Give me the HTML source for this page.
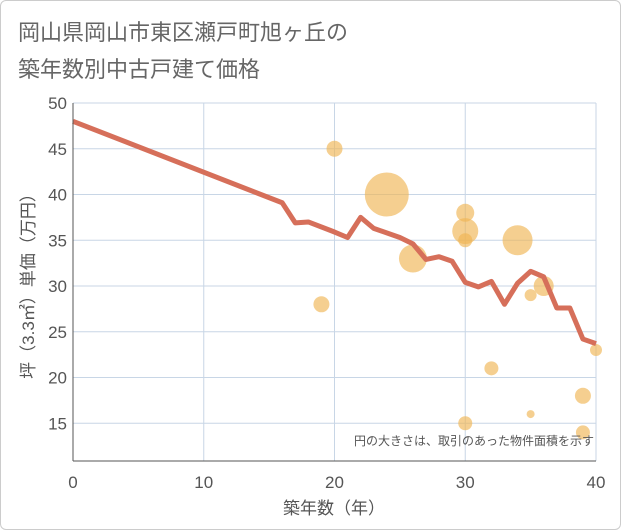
<!DOCTYPE html>
<html><head><meta charset="utf-8">
<style>
body{margin:0;background:#fff;font-family:"Liberation Sans","Noto Sans CJK JP",sans-serif;}
#wrap{position:relative;width:619px;height:528px;border:1px solid #ccc;border-radius:6px;overflow:hidden;}
</style></head>
<body>
<div id="wrap">
<svg id="svg" width="621" height="530" style="position:absolute;left:-1px;top:-1px">
<text x="18" y="40" font-size="22" fill="#666">岡山県岡山市東区瀬戸町旭ヶ丘の</text>
<text x="18" y="77" font-size="22" fill="#666">築年数別中古戸建て価格</text>
<g id="grid"></g><g id="bubbles"></g><g id="line"></g><g id="axes"></g>
<text x="594" y="445" font-size="12" fill="#555" text-anchor="end">円の大きさは、取引のあった物件面積を示す</text>
<text x="334" y="514" font-size="17" fill="#555" text-anchor="middle">築年数（年）</text>
<text transform="translate(34,282) rotate(-90)" font-size="17" fill="#555" text-anchor="middle">坪（3.3㎡）単価（万円）</text>
</svg>
</div>
<script>
const xTicks=[0,10,20,30,40];
const yTicks=[15,20,25,30,35,40,45,50];
const lineX=[0,16,17,18,20,21,22,23,25,26,27,28,29,30,31,32,33,34,35,36,37,38,39,40];
const lineY=[48,39.1,36.9,37,35.9,35.3,37.5,36.3,35.3,34.6,32.9,33.2,32.7,30.4,29.9,30.5,28,30.3,31.6,31,27.6,27.6,24.2,23.7];
const bubX=[20,24,19,26,30,30,30,34,35,36,32,30,35,39,39,40];
const bubY=[45,40,28,33,38,36,35,35,29,30,21,15,16,18,14,23];
const bubR=[8,22,8,14,9,13,7,15,6,10,7,7,4,8,7,6];
const NS="http://www.w3.org/2000/svg";
const X0=73,X1=596,Y0=461;
const sx=v=>X0+(v/40)*(X1-X0);
const sy=v=>103+(50-v)*9.15;
function mk(t,a,p){const e=document.createElementNS(NS,t);for(const k in a)e.setAttribute(k,a[k]);p.appendChild(e);return e;}
const grid=document.getElementById('grid'),axes=document.getElementById('axes');
xTicks.forEach(v=>{
 const l=mk('line',{x1:sx(v),x2:sx(v),y1:103,y2:Y0,stroke:'#c8d6e6','stroke-width':1},grid);
 
 
 const t=mk('text',{x:sx(v),y:488,'font-size':17,fill:'#555','text-anchor':'middle'},axes);t.textContent=v;
 
 
});
yTicks.forEach(v=>{
 const l=mk('line',{x1:X0,x2:X1,y1:sy(v),y2:sy(v),stroke:'#c8d6e6','stroke-width':1},grid);
 
 
 const t=mk('text',{x:67,y:sy(v)+6,'font-size':17,fill:'#555','text-anchor':'end'},axes);t.textContent=v;
 
 
});
const xa=mk('line',{x1:X0,x2:X1,y1:Y0,y2:Y0,stroke:'#555','stroke-width':1},axes);


const ya=mk('line',{x1:X0,x2:X0,y1:103,y2:Y0,stroke:'#555','stroke-width':1},axes);


const bg=document.getElementById('bubbles');
bubX.forEach((v,i)=>{
 const c=mk('circle',{cx:sx(v),cy:sy(bubY[i]),r:bubR[i],fill:'#f0b654','fill-opacity':0.65},bg);
 
 
});
const p=mk('polyline',{points:lineX.map((v,i)=>sx(v)+','+sy(lineY[i])).join(' '),fill:'none',stroke:'#d66f5a','stroke-width':5,'stroke-linejoin':'round'},document.getElementById('line'));


</script>
</body></html>
